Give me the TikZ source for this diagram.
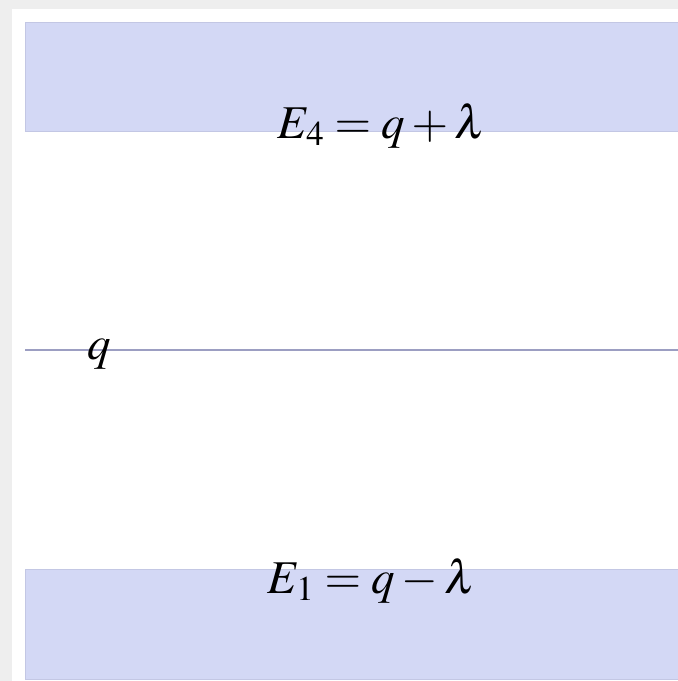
\documentclass[tikz,border=0pt]{standalone}
\usepackage{amsmath}
\usepackage{mathptmx}
\usepackage{xcolor}
\usepackage{tikz}

\definecolor{bandblue}{HTML}{D3D8F5}
\definecolor{bandedge}{HTML}{C3C7E4}
\definecolor{levelline}{HTML}{9C9EC2}
\definecolor{bggray}{HTML}{EEEEEE}

\begin{document}
\begin{tikzpicture}[x=1pt,y=-1pt,font=\fontsize{47}{52}\selectfont,
    band/.style={fill=bandblue,draw=bandedge,line width=1pt},
    lbl/.style={inner sep=0pt,anchor=base}]
  \useasboundingbox (0,0) rectangle (678,681);
  \fill[bggray] (0,0) rectangle (678,681);
  \fill[white] (12,9) rectangle (690,690);
  \draw[band] (25,22) rectangle (690,131);
  \draw[band] (25,569) rectangle (690,679);
  \coordinate (lvlL) at (25,350);
  \coordinate (lvlR) at (690,350);
  \draw[levelline,line width=1.4pt] (lvlL) -- (lvlR);
  \node[lbl] (e4) at (382,138) {$E_4 = q + \lambda$};
  \node[lbl] (e1) at (372,593) {$E_1 = q - \lambda$};
  \node[lbl] (q) at (99,359) {$q$};
\end{tikzpicture}
\end{document}
